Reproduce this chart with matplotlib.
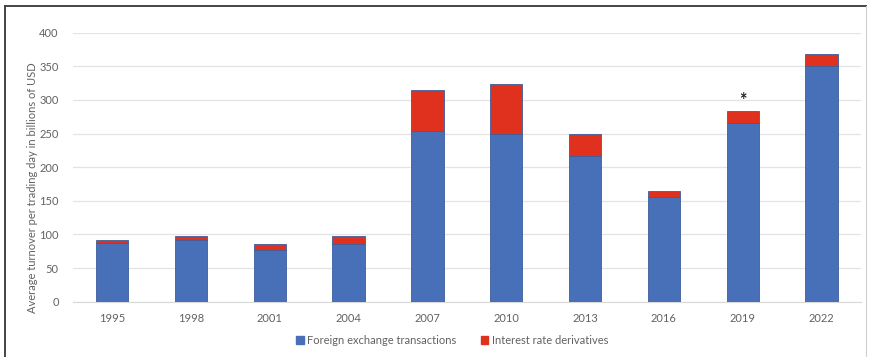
import matplotlib
matplotlib.use("Agg")
import matplotlib.pyplot as plt
from matplotlib.lines import Line2D
from matplotlib.patches import Patch

years = ["1995", "1998", "2001", "2004", "2007", "2010", "2013", "2016", "2019", "2022"]
fx_transactions = [88, 92, 77, 86, 254, 250, 217, 156, 265, 350]
ir_derivatives = [4, 6, 9, 12, 61, 74, 32, 9, 19, 18]
starred_year = "2019"

BLUE = "#4770B8"
RED = "#E0301E"
GREY_TEXT = "#626262"

plt.rcParams["font.family"] = ["Lato", "DejaVu Sans"]

W, H = 870, 357
fig = plt.figure(figsize=(W / 100, H / 100), dpi=100)
ax = fig.add_axes([72.7 / W, 1 - 301.7 / H, (861 - 72.7) / W, (301.7 - 32.7) / H])

x = list(range(len(years)))
ax.bar(x, fx_transactions, width=0.41, color=BLUE, edgecolor="#3A5E9E",
       linewidth=0.6, zorder=3)
ax.bar(x, ir_derivatives, width=0.41, bottom=fx_transactions, color=RED,
       edgecolor="#3A5E9E", linewidth=0.6, zorder=3)

i = years.index(starred_year)
ax.text(i, fx_transactions[i] + ir_derivatives[i] + 2, "*", ha="center",
        va="bottom", fontsize=13, color="#222222", fontweight="bold")

ax.set_xlim(-0.5, len(years) - 0.5)
ax.set_ylim(0, 400)
ax.set_yticks(range(0, 401, 50))
ax.set_xticks(x)
ax.set_xticklabels(years)
ax.grid(axis="y", color="#E3E3E3", linewidth=0.9, zorder=0)
ax.tick_params(axis="both", length=0, labelsize=8, colors=GREY_TEXT)
ax.tick_params(axis="y", pad=10)
ax.tick_params(axis="x", pad=8)
for side in ("top", "right", "left"):
    ax.spines[side].set_visible(False)
ax.spines["bottom"].set_color("#D9D9D9")
ax.set_ylabel("Average turnover per trading day in billions of USD",
              fontsize=8, color=GREY_TEXT)
ax.yaxis.set_label_coords(-0.044, 0.423)

handles = [Patch(facecolor=BLUE, edgecolor=BLUE),
           Patch(facecolor=RED, edgecolor=RED)]
fig.legend(handles, ["Foreign exchange transactions", "Interest rate derivatives"],
           loc="center", bbox_to_anchor=(452 / W, 1 - 340 / H), ncol=2,
           frameon=False, fontsize=8, labelcolor=GREY_TEXT, handlelength=0.7,
           handleheight=0.7, handletextpad=0.3, columnspacing=2.2)

# outer border of the chart
fig.add_artist(Line2D([5 / W, 5 / W], [0, 1 - 6 / H], transform=fig.transFigure,
                      color="#444444", linewidth=1.4))
fig.add_artist(Line2D([5 / W, 866 / W], [1 - 6 / H, 1 - 6 / H], transform=fig.transFigure,
                      color="#444444", linewidth=1.4))
fig.add_artist(Line2D([866 / W, 866 / W], [0, 1 - 6 / H], transform=fig.transFigure,
                      color="#CFCFCF", linewidth=0.8))

fig.savefig("out.png", dpi=100)
